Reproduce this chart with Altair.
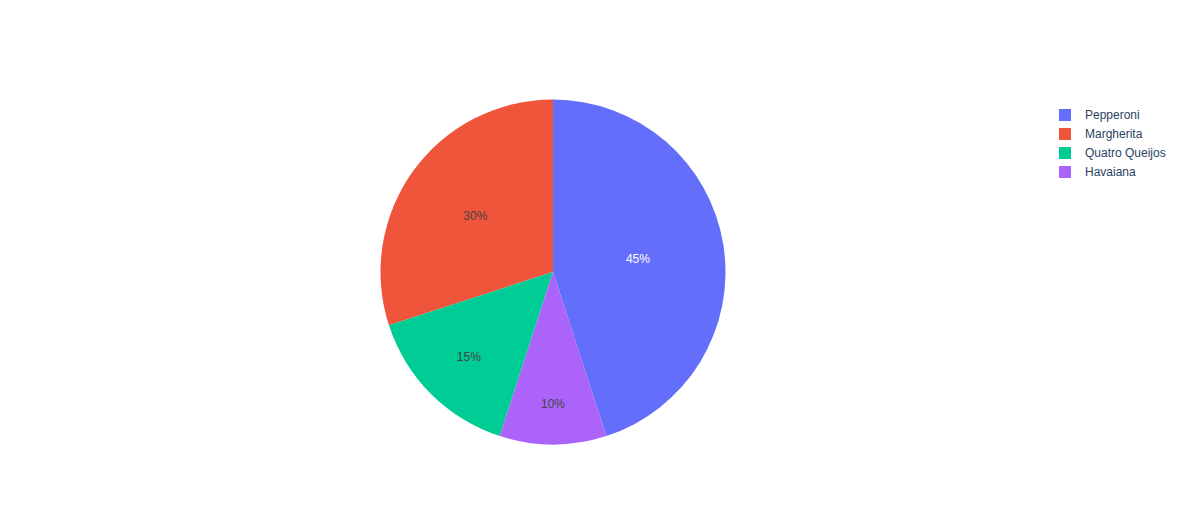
import altair as alt
import pandas as pd

# ---- data ----
pizzas = ["Pepperoni", "Margherita", "Quatro Queijos", "Havaiana"]
shares = [45, 30, 15, 10]
# clockwise drawing order starting at 12 o'clock
clockwise = ["Pepperoni", "Havaiana", "Quatro Queijos", "Margherita"]
colors = ["#636efa", "#EF553B", "#00cc96", "#ab63fa"]

df = pd.DataFrame({"pizza": pizzas, "share": shares})
df["rank"] = [clockwise.index(p) for p in pizzas]

# ---- layout (chart coordinates) ----
W, H = 1167, 509
CX, CY, R = 545, 264, 172.5
label_r = {"Pepperoni": 86, "Margherita": 96, "Quatro Queijos": 119, "Havaiana": 131}
FONT = "Liberation Sans"

lr_expr = " : ".join(
    [f"datum.pizza == '{k}' ? {v}" for k, v in label_r.items()]
) + " : 100"

color_scale = alt.Scale(domain=pizzas, range=colors)

pie = alt.Chart(df).mark_arc(strokeWidth=0, outerRadius=R).encode(
    theta=alt.Theta("share:Q", stack=True),
    order=alt.Order("rank:Q", sort="ascending"),
    color=alt.Color(
        "pizza:N",
        scale=color_scale,
        legend=alt.Legend(
            title=None,
            orient="none",
            legendX=1051,
            legendY=101,
            symbolType="square",
            symbolSize=144,
            symbolStrokeWidth=0,
            symbolOpacity=1,
            labelFont=FONT,
            labelFontSize=12,
            labelColor="#2a3f5f",
            labelOffset=14,
            rowPadding=7,
            padding=0,
        ),
    ),
    x=alt.value(CX),
    y=alt.value(CY),
).properties(width=W, height=H)

labels = alt.Chart(df).transform_window(
    cum="sum(share)",
    sort=[alt.SortField("rank", order="ascending")],
    frame=[None, 0],
).transform_joinaggregate(
    total="sum(share)"
).transform_calculate(
    ang="(datum.cum - datum.share / 2) / datum.total * 2 * PI",
    lr=lr_expr,
).transform_calculate(
    lx=f"{CX} + datum.lr * sin(datum.ang)",
    ly=f"{CY} - datum.lr * cos(datum.ang) + 0.5",
    txt="format(datum.share / datum.total, '.0%')",
).mark_text(font=FONT, fontSize=12, align="center", baseline="middle").encode(
    x=alt.X("lx:Q", scale=None, axis=None),
    y=alt.Y("ly:Q", scale=None, axis=None),
    text="txt:N",
    color=alt.condition(
        "datum.pizza == 'Pepperoni'", alt.value("#ffffff"), alt.value("#444444")
    ),
)

chart = alt.layer(pie, labels).properties(
    width=W, height=H, padding=0,
    autosize=alt.AutoSizeParams(type="none"),
).configure(background="white", view=alt.ViewConfig(stroke=None))

chart.save("out.html", embed_options={"renderer": "svg", "actions": False})
